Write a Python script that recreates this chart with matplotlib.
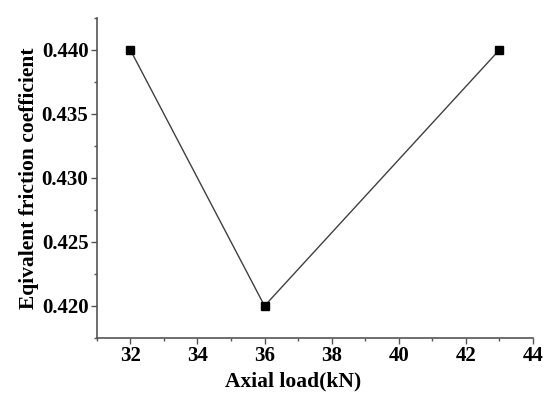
import matplotlib
matplotlib.use('Agg')
import matplotlib.pyplot as plt
from matplotlib.ticker import MultipleLocator

# данные с графика
axial_load = [32, 36, 43]
friction = [0.440, 0.420, 0.440]

plt.rcParams['font.family'] = ['Liberation Serif', 'DejaVu Serif']
plt.rcParams['font.weight'] = 'bold'

fig = plt.figure(figsize=(5.5, 3.98), dpi=100)
ax = fig.add_axes([0.176, 0.151, 0.793, 0.804])

ax.plot(axial_load, friction, color='#404040', linewidth=1.0,
        marker='s', markersize=5.5, markerfacecolor='black', markeredgecolor='black')

ax.set_xlim(31, 44)
ax.set_ylim(0.4175, 0.4425)
ax.xaxis.set_major_locator(MultipleLocator(2))
ax.xaxis.set_minor_locator(MultipleLocator(1))
ax.yaxis.set_major_locator(MultipleLocator(0.005))
ax.yaxis.set_minor_locator(MultipleLocator(0.0025))
ax.yaxis.set_major_formatter(plt.FormatStrFormatter('%.3f'))

for s in ['top', 'right']:
    ax.spines[s].set_visible(False)
for s in ['left', 'bottom']:
    ax.spines[s].set_color('#555555')
    ax.spines[s].set_linewidth(1.2)

ax.tick_params(which='both', direction='out', color='#555555', width=1.0)
ax.tick_params(which='major', length=4.5, labelsize=15, pad=1.5)
ax.tick_params(which='minor', length=2.5)

ax.set_xlabel('Axial load(kN)', fontsize=15.5, fontweight='bold')
ax.set_ylabel('Eqivalent friction coefficient', fontsize=15.5, fontweight='bold')
# подписи осей немного смещены, как в оригинале
ax.xaxis.set_label_coords(0.45, -0.105)
ax.yaxis.set_label_coords(-0.132, 0.5)

fig.savefig('out.png', dpi=100)
